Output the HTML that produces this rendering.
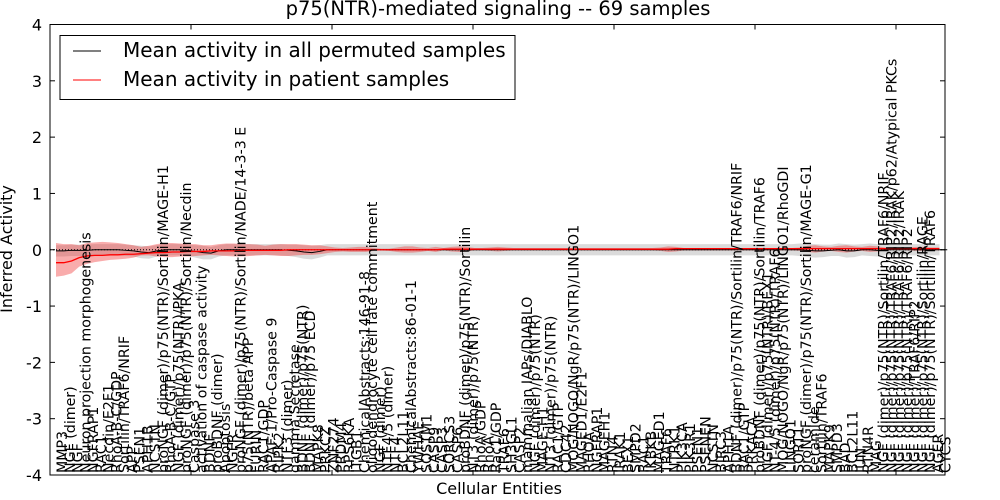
<!DOCTYPE html>
<html><head><meta charset="utf-8"><style>
html,body{margin:0;padding:0;background:#fff;width:1000px;height:500px;overflow:hidden}
svg text{font-family:"DejaVu Sans","Liberation Sans",sans-serif;fill:#000}
</style></head><body>
<svg id="chart" width="1000" height="500" viewBox="0 0 1000 500" xmlns="http://www.w3.org/2000/svg">
<text x="498" y="15" font-size="19.5" text-anchor="middle">p75(NTR)-mediated signaling -- 69 samples</text>
<text x="0" y="0" font-size="16" text-anchor="middle" transform="translate(12,249) rotate(-90)">Inferred Activity</text>
<text x="499" y="494" font-size="16" text-anchor="middle">Cellular Entities</text>
<g id="plot"></g>
</svg>
<script>
const labels=["MMP3","NGF (dimer)","NGF","Neuron projection morphogenesis","NGFRAP1","RAC1","Necdin/E2F1","RhoA-B-C/GDP","Sortilin/TRAF6/NRIF","APP","PSEN1","APH1B","NCSTN","proNGF (dimer)/p75(NTR)/Sortilin/MAGE-H1","RhoA-B-C/GTP","NGF (dimer)/p75(NTR)/PKA","proNGF (dimer)/p75(NTR)/Sortilin/Necdin","Caspase 3","activation of caspase activity","BDNF","proBDNF (dimer)","Apoptosis","NGFR","proNGF (dimer)/p75(NTR)/Sortilin/NADE/14-3-3 E","p75(NTR)/beta APP","FURIN","RAC1/GDP","APAF-1/Pro-Caspase 9","RIPK2","NTF3 (dimer)","gamma Secretase","BDNF (dimer)/p75(NTR)","BDNF (dimer)/p75 ECD","MAPK8","PRKCZ","ZNF274","PRDM4","RPS6KA","ITGB1","ChemicalAbstracts:146-91-8","oligodendrocyte cell fate commitment","NGF (dimer)","NTF4/5 (dimer)","NTF4","BCL2L11","ChemicalAbstracts:86-01-1","YWHAE","SQSTM1","CASP9","CASP3","SORCS3","CASP6","proBDNF (dimer)/p75(NTR)/Sortilin","NT3 (dimer)/p75(NTR)","RhoA/GDP","RhoA","Rac1/GDP","TRAF6","SH3GL1","CASP2","mammalian IAPs/DIABLO","NGF (dimer)/p75(NTR)","MAGE-H1","NT3 (dimer)/p75(NTR)","RAC1/GTP","CDC42","MOG/NOGO/NgR/p75(NTR)/LINGO1","MAGED1/E2F1","RHOA","NGFRAP1","MAGEH1","RTN4","IRAK1","BEX1","SMPD2","RAC1","IKBKB","MAGED1","TRAF6","NTRK1","PIK3CA","PIK3R1","PSEN1","PSENEN","NCSTN","BIRC3","APH1A","BDNF (dimer)/p75(NTR)/Sortilin/TRAF6/NRIF","RAC1/GTP","PRKACA","proBDNF (dimer)/p75(NTR)/Sortilin/TRAF6","NGF (dimer)/p75(NTR)/BEX1","NT-4/5 (dimer)/p75(NTR)/TRAF6","MOG/NOGO/NgR/p75(NTR)/LINGO1/RhoGDI","LINGO1","SORT1","proNGF (dimer)/p75(NTR)/Sortilin/MAGE-G1","ceramide","Sortilin/TRAF6","MAPK9","SMPD3","BAD","BCL2L11","JUN","RTN4R","MAG","NGF (dimer)/p75(NTR)/Sortilin/TRAF6/NRIF","NGF (dimer)/p75(NTR)/TRAF6/RIP2/IRAK/p62/Atypical PKCs","NGF (dimer)/p75(NTR)/TRAF6/RIP2/IRAK","NGF (dimer)/p75(NTR)/TRAF6/RIP2","NGF (dimer)/TRAF6/RIP2","NGF (dimer)/p75(NTR)/Sortilin/RAGE","NGF (dimer)/p75(NTR)/Sortilin/TRAF6","AGER","CYCS"];
const redMean=[-0.23,-0.23,-0.2,-0.14,-0.11,-0.1,-0.1,-0.09,-0.09,-0.08,
-0.08,-0.07,-0.06,-0.05,-0.05,-0.04,-0.04,-0.03,-0.03,-0.03,
-0.02,-0.02,-0.02,-0.02,-0.01,-0.01,-0.01,-0.01,-0.01,-0.01,
0,0,0,0,0,0,0,0,0,0,0,0,0,0,0,0,0,0,0,0,
0.01,0.01,0.01,0.01,0.01,0.01,0.01,0.01,0.01,0.01,0.01,0.01,0.01,0.01,0.01,
0.01,0.01,0.01,0.01,0.01,0.01,0.01,0.01,0.01,0.01,0.01,0.01,0.01,0.01,0.01,
0.02,0.02,0.02,0.02,0.02,0.02,0.02,0.02,0.02,0.02,0.02,0.02,0.02,0.02,0.02,0.02,0.02,0.02,
0.02,0.02,0.02,0.02,0.02,0.02,0.02,0.02,0.02,0.02,0.02,0.02,0.02,0.02,0.02,0.02,0.02];
const redUpper=[0.12,0.1,0.1,0.08,0.12,0.13,0.14,0.13,0.12,0.1,
0.08,0.05,0.07,0.1,0.12,0.12,0.11,0.1,0.1,0.08,
0.08,0.1,0.11,0.11,0.1,0.1,0.09,0.07,0.09,0.1,
0.1,0.1,0.09,0.08,0.08,0.06,0.04,0.03,0.04,0.05,
0.05,0.03,0.02,0.02,0.04,0.06,0.06,0.04,0.03,0.05,
0.03,0.05,0.06,0.05,0.03,0.03,0.04,0.05,0.04,0.03,
0.03,0.03,0.03,0.03,0.03,0.03,0.03,0.03,0.03,0.03,0.03,0.03,0.03,0.03,0.03,0.03,0.03,0.03,
0.04,0.06,0.05,
0.03,0.03,0.03,0.03,0.03,0.03,0.03,0.03,0.03,0.03,0.03,0.03,0.03,0.03,0.03,
0.04,0.07,0.08,0.06,0.05,0.07,0.08,0.06,0.05,0.07,0.06,0.04,
0.03,0.03,0.04,0.05,0.05,0.04,0.04];
const redLower=[-0.48,-0.46,-0.42,-0.3,-0.25,-0.22,-0.2,-0.18,-0.17,-0.16,
-0.14,-0.1,-0.1,-0.12,-0.13,-0.13,-0.12,-0.12,-0.11,-0.1,
-0.09,-0.1,-0.11,-0.12,-0.12,-0.11,-0.1,-0.09,-0.1,-0.11,
-0.11,-0.1,-0.09,-0.09,-0.08,-0.06,-0.04,-0.03,-0.04,-0.04,
-0.04,-0.02,-0.01,-0.02,-0.04,-0.05,-0.05,-0.04,-0.02,-0.04,
-0.01,-0.03,-0.04,-0.03,-0.01,-0.01,-0.02,-0.03,-0.02,-0.01,
-0.01,-0.01,-0.01,-0.01,-0.01,-0.01,-0.01,-0.01,-0.01,-0.01,-0.01,-0.01,-0.01,-0.01,-0.01,-0.01,-0.01,-0.01,
-0.02,-0.04,-0.03,
-0.01,-0.01,-0.01,-0.01,-0.01,-0.01,-0.01,-0.01,-0.01,-0.01,-0.01,-0.01,-0.01,-0.01,-0.01,
-0.02,-0.04,-0.05,-0.03,-0.02,-0.04,-0.05,-0.03,-0.02,-0.04,-0.03,-0.01,
0,0,-0.01,-0.02,-0.02,-0.01,-0.01];
const blackMean=[-0.02,-0.02,-0.01,-0.01,-0.01,0,0,0,0,-0.01,
-0.02,-0.04,-0.05,-0.02,0,0,0,-0.01,-0.03,-0.05,
-0.06,-0.02,0,0,0,0,0,0,0,0,
-0.01,-0.02,-0.04,-0.05,-0.03,0,
0,0,0,0,0,0,0,0,0,0,0,0,0,0,0,0,0,0,0,0,
0,0,0,0,0,0,0,0,0,0,0,0,0,0,0,0,0,0,0,0,
0,0,0,0,0,0,0,0,0,0,0,0,0,0,0,0,0,0,0,0,0,
-0.01,-0.02,-0.02,-0.01,0,-0.02,-0.02,0,0,-0.01,
0,0,0,0,0,0,0,0,0];
const grayHalf=[0.1,0.1,0.1,0.1,0.1,0.1,0.1,0.1,0.1,0.1,
0.1,0.11,0.11,0.1,0.1,0.1,0.1,0.1,0.11,0.12,
0.11,0.1,0.1,0.1,0.1,0.1,0.1,0.1,0.1,0.1,
0.1,0.11,0.12,0.12,0.11,0.1,
0.1,0.1,0.1,0.1,0.1,0.1,0.1,0.1,0.1,0.1,0.1,0.1,0.1,0.1,0.1,0.1,0.1,0.1,0.1,0.1,
0.1,0.1,0.1,0.1,0.1,0.1,0.1,0.1,0.1,0.1,0.1,0.1,0.1,0.1,0.1,0.1,0.1,0.1,0.1,0.1,
0.1,0.1,0.1,0.1,0.1,0.1,0.1,0.1,0.1,0.1,0.1,0.1,0.1,0.1,0.1,0.1,0.1,0.1,0.1,0.1,
0.11,0.12,0.12,0.11,0.1,0.11,0.12,0.11,0.1,0.11,0.11,
0.1,0.1,0.1,0.1,0.1,0.1,0.1,0.1];
const yTicks=[-4,-3,-2,-1,0,1,2,3,4];

const NS="http://www.w3.org/2000/svg";
const L=50,R=945,T=24.5,B=475;
const N=labels.length;
const x=i=>56+i*7.75;
const y=v=>T+(4-v)/8*(B-T);
const g=document.getElementById('plot');
function mk(tag,attrs,parent){const e=document.createElementNS(NS,tag);for(const k in attrs)e.setAttribute(k,attrs[k]);(parent||g).appendChild(e);return e;}
function band(up,lo,n,fill,op,name){
  let d='';for(let i=0;i<n;i++)d+=(i?'L':'M')+x(i)+','+y(up(i));
  for(let i=n-1;i>=0;i--)d+='L'+x(i)+','+y(lo(i));
  const p=mk('path',{d:d+'Z',fill:fill,'fill-opacity':op,stroke:'none'});
  
  
}
function line(vals,stroke,w,name){
  let d='';for(let i=0;i<vals.length;i++)d+=(i?'L':'M')+x(i)+','+y(vals[i]);
  const p=mk('path',{d:d,fill:'none',stroke:stroke,'stroke-width':w});
  
  
}
const nG=Math.min(blackMean.length,grayHalf.length);
band(i=>blackMean[i]+grayHalf[i],i=>blackMean[i]-grayHalf[i],nG,'#b0b0b0',0.45,'permuted-band');
const nR=Math.min(redUpper.length,redLower.length);
band(i=>redUpper[i],i=>redLower[i],nR,'#f03030',0.4,'patient-band');
const zl=mk('line',{x1:L,x2:R,y1:y(0),y2:y(0),stroke:'#000','stroke-width':1,'stroke-dasharray':'1,2'});


line(blackMean,'#000',1,'permuted-mean-line');
line(redMean,'#ff0000',1.3,'patient-mean-line');
labels.forEach((t,i)=>{
  const e=mk('text',{x:0,y:0,'font-size':14.2,transform:`translate(${x(i)+11},${B-2}) rotate(-90)`});
  e.textContent=t;
  
  
});
const fr=mk('rect',{x:L,y:T,width:R-L,height:B-T,fill:'none',stroke:'#000','stroke-width':1});


yTicks.forEach(v=>{
  mk('line',{x1:L,x2:L+5,y1:y(v),y2:y(v),stroke:'#000'});
  mk('line',{x1:R-5,x2:R,y1:y(v),y2:y(v),stroke:'#000'});
  const t=mk('text',{x:L-8,y:y(v)+6,'font-size':16,'text-anchor':'end'});
  t.textContent=v;
  
  
});
for(let k=1;k<7;k++){const xx=L+141*k;if(xx>=R)break;
  mk('line',{x1:xx,x2:xx,y1:T,y2:T+5,stroke:'#000'});
  mk('line',{x1:xx,x2:xx,y1:B-5,y2:B,stroke:'#000'});}
</script>
<svg style="position:absolute;left:0;top:0" width="1000" height="500">
<g>
<rect x="60" y="35.5" width="455" height="64" fill="#fff" stroke="#000" stroke-width="1"/>
<line x1="73" x2="101" y1="51" y2="51" stroke="#000" stroke-width="1"/>
<text x="123" y="57" font-size="20">Mean activity in all permuted samples</text>
<line x1="73" x2="101" y1="80" y2="80" stroke="#ff0000" stroke-width="1"/>
<text x="123" y="86" font-size="20">Mean activity in patient samples</text>
</g>
</svg>
</body></html>
